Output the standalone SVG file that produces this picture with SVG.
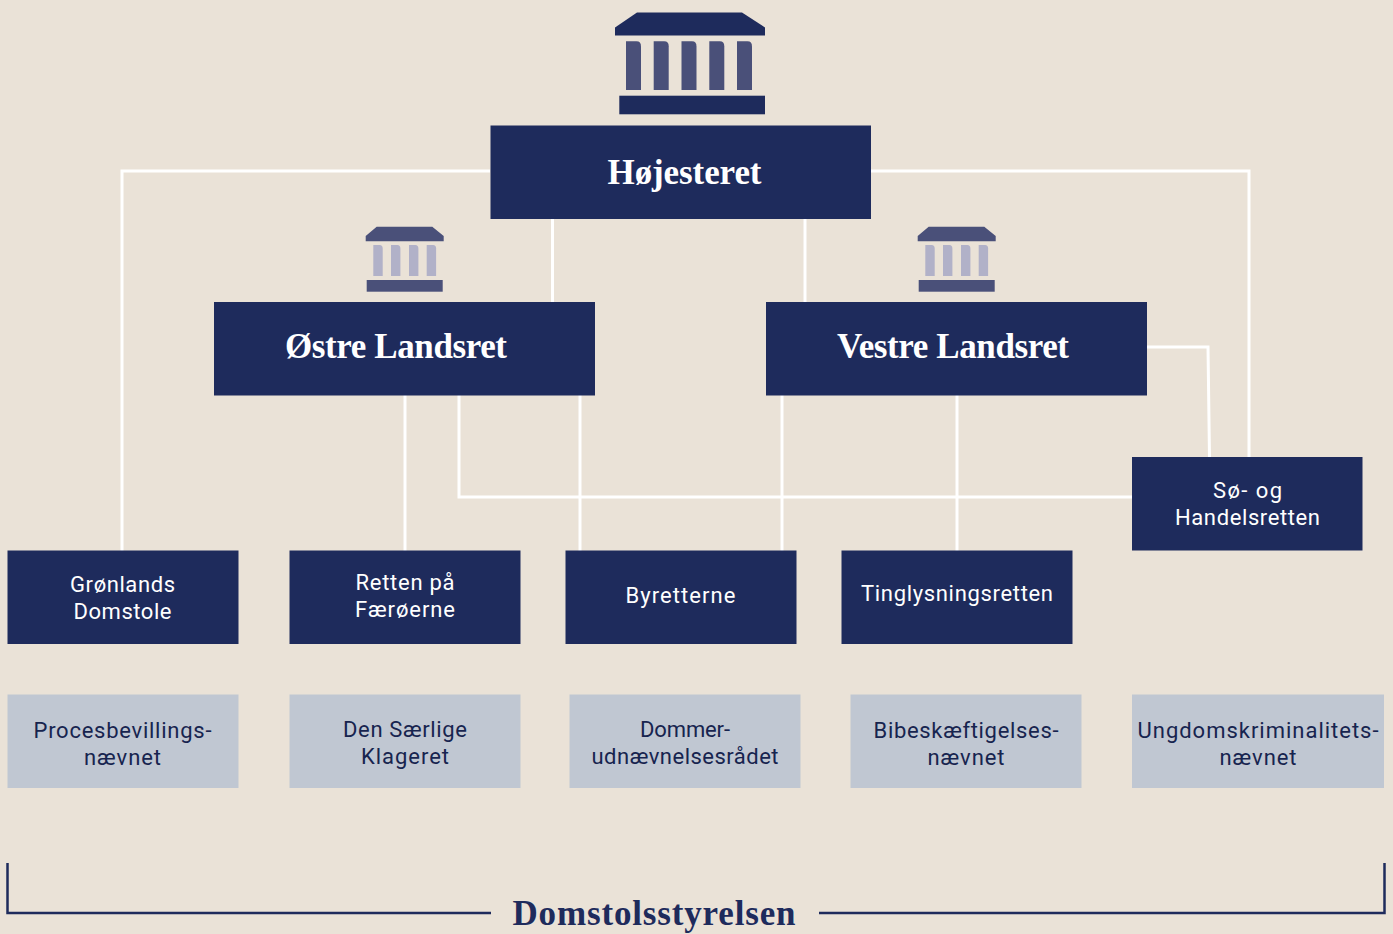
<svg xmlns="http://www.w3.org/2000/svg" xmlns:xlink="http://www.w3.org/1999/xlink" width="1393" height="934" viewBox="0 0 1393 934">
<style>
.n{fill:#1e2b5c}
.g{fill:#c0c7d2}
.c{fill:none;stroke:#fff;stroke-width:3}
.b{fill:none;stroke:#1e2b5c;stroke-width:2.5}
.s{font-family:"Liberation Serif","DejaVu Serif",serif;font-weight:700;font-size:35px;text-anchor:middle}
.w{fill:#fff}
.t{font-family:Roboto,"Liberation Sans",sans-serif;font-size:22px;text-anchor:middle}
.d{fill:#17244f}
.h{fill:#1e2b5c}
.i1{fill:#1e2b5c}.i2{fill:#4a5079}.i3{fill:#4a5079}.i4{fill:#b1b1c8}
</style>
<defs>
<path id="col" d="M0 0H10.500Q15 0 15 5V48.700H0Z"/>
<path id="col2" d="M0 0H6.400Q9.400 0 9.400 3.500V31H0Z"/>
<g id="small">
<path class="i3" d="M365.700 236L376.700 226.700H432.300L443.700 236V241.300H365.700Z"/>
<use class="i4" xlink:href="#col2" href="#col2" x="373.300" y="245"/>
<use class="i4" xlink:href="#col2" href="#col2" x="391" y="245"/>
<use class="i4" xlink:href="#col2" href="#col2" x="409" y="245"/>
<use class="i4" xlink:href="#col2" href="#col2" x="426.700" y="245"/>
<rect class="i3" x="366.700" y="280" width="76" height="11.700"/>
</g>
</defs>
<rect width="1393" height="934" fill="#eae2d7"/>
<g id="connectors">
<path class="c" d="M490 171H122V551"/>
<path class="c" d="M871 171H1249V458"/>
<path class="c" d="M552.500 219V302"/>
<path class="c" d="M805 219V302"/>
<path class="c" d="M405 395V551"/>
<path class="c" d="M459 395V497H1132"/>
<path class="c" d="M580 395V551"/>
<path class="c" d="M782 395V551"/>
<path class="c" d="M957 395V551"/>
<path class="c" d="M1147 347H1208L1209.500 458"/>
</g>
<g id="icon-hojesteret">
<path class="i1" d="M615 27.500L637 12.500H742L765 27.500V35.500H615Z"/>
<use class="i2" xlink:href="#col" href="#col" x="626" y="41.300"/>
<use class="i2" xlink:href="#col" href="#col" x="653.700" y="41.300"/>
<use class="i2" xlink:href="#col" href="#col" x="681.500" y="41.300"/>
<use class="i2" xlink:href="#col" href="#col" x="709.300" y="41.300"/>
<use class="i2" xlink:href="#col" href="#col" x="737" y="41.300"/>
<rect class="i1" x="619.300" y="95.700" width="145.700" height="18.600"/>
</g>
<g id="icon-ostre"><use xlink:href="#small" href="#small"/></g>
<g id="icon-vestre"><use xlink:href="#small" href="#small" x="552"/></g>
<g id="hojesteret"><rect class="n" x="490.500" y="125.500" width="380.500" height="93.500"/><text class="s w" x="684.500" y="184" textLength="154">Højesteret</text></g>
<g id="ostre"><rect class="n" x="214" y="302" width="381" height="93.500"/><text class="s w" x="396" y="358" textLength="222">Østre Landsret</text></g>
<g id="vestre"><rect class="n" x="766" y="302" width="381" height="93.500"/><text class="s w" x="953" y="358" textLength="232">Vestre Landsret</text></g>
<g id="so"><rect class="n" x="1132" y="457" width="230.500" height="93.500"/><text class="t w" x="1247.500" y="498" textLength="69">Sø- og</text><text class="t w" x="1247.500" y="525" textLength="145">Handelsretten</text></g>
<g id="gronlands"><rect class="n" x="7.500" y="550.500" width="231" height="93.500"/><text class="t w" x="122.500" y="592" textLength="105">Grønlands</text><text class="t w" x="122.500" y="619" textLength="98">Domstole</text></g>
<g id="faeroerne"><rect class="n" x="289.500" y="550.500" width="231" height="93.500"/><text class="t w" x="405" y="590" textLength="99">Retten på</text><text class="t w" x="405" y="617" textLength="100">Færøerne</text></g>
<g id="byretterne"><rect class="n" x="565.500" y="550.500" width="231" height="93.500"/><text class="t w" x="680.500" y="603" textLength="110">Byretterne</text></g>
<g id="tinglysning"><rect class="n" x="841.500" y="550.500" width="231" height="93.500"/><text class="t w" x="957" y="601" textLength="192">Tinglysningsretten</text></g>
<g id="proces"><rect class="g" x="7.500" y="694.500" width="231" height="93.500"/><text class="t d" x="122.500" y="738" textLength="178">Procesbevillings-</text><text class="t d" x="122.500" y="765" textLength="77">nævnet</text></g>
<g id="saerlige"><rect class="g" x="289.500" y="694.500" width="231" height="93.500"/><text class="t d" x="405" y="737" textLength="124">Den Særlige</text><text class="t d" x="405" y="764" textLength="88">Klageret</text></g>
<g id="dommer"><rect class="g" x="569.500" y="694.500" width="231" height="93.500"/><text class="t d" x="685" y="737" textLength="90">Dommer-</text><text class="t d" x="685" y="764" textLength="187">udnævnelsesrådet</text></g>
<g id="bibeskaeftigelse"><rect class="g" x="850.500" y="694.500" width="231" height="93.500"/><text class="t d" x="966" y="738" textLength="185">Bibeskæftigelses-</text><text class="t d" x="966" y="765" textLength="77">nævnet</text></g>
<g id="ungdom"><rect class="g" x="1132" y="694.500" width="252" height="93.500"/><text class="t d" x="1258" y="738" textLength="241">Ungdomskriminalitets-</text><text class="t d" x="1258" y="765" textLength="77">nævnet</text></g>
<g id="domstolsstyrelsen"><path class="b" d="M7.500 863V913H491"/><path class="b" d="M819 913H1384.500V863"/><text class="s h" x="654" y="925" textLength="283">Domstolsstyrelsen</text></g>
</svg>
